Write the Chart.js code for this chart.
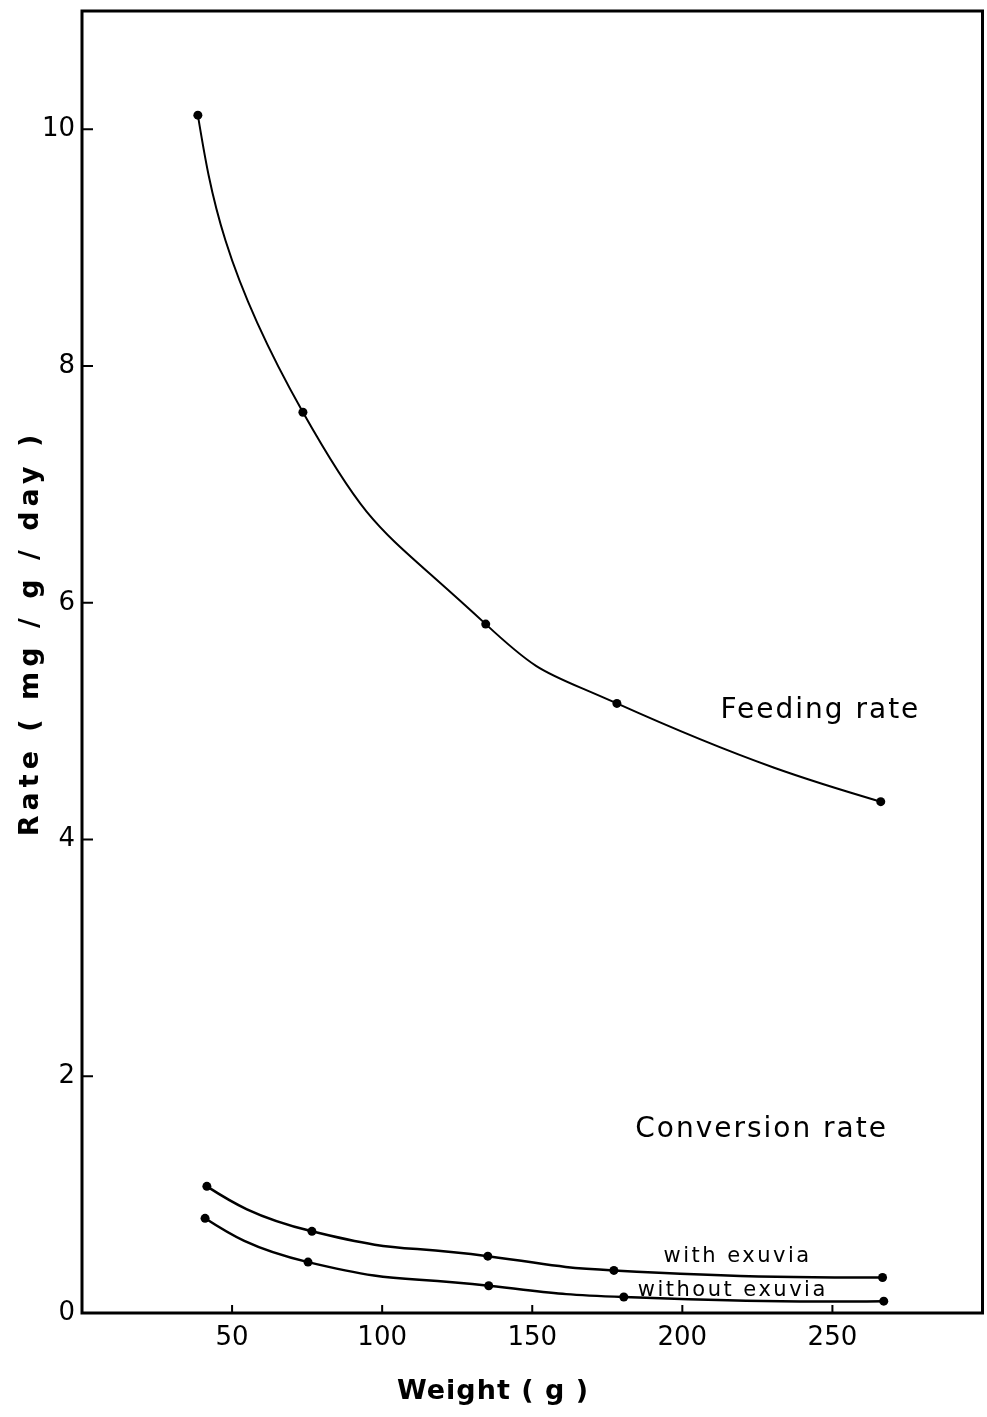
<!DOCTYPE html>
<html>
<head>
<meta charset="utf-8">
<title>Feeding and conversion rate vs weight</title>
<script src="https://cdn.jsdelivr.net/npm/chart.js@4.4.0/dist/chart.umd.min.js"></script>
<style>
    html, body { margin: 0; padding: 0; background: #fff; }
    #wrap { width: 987px; height: 1417px; }
</style>
</head>
<body>
<div id="wrap"><canvas id="myChart"></canvas></div>
<script>
// feeding rate
var weight_feed = [38.6, 73.6, 134.5, 178.2, 266.1];
var feeding_rate = [10.12, 7.61, 5.82, 5.15, 4.32];
// conversion rate, with exuvia
var weight_with = [41.6, 76.6, 135.2, 177.2, 266.7];
var conv_with = [1.07, 0.69, 0.48, 0.36, 0.30];
// conversion rate, without exuvia
var weight_without = [41.0, 75.3, 135.5, 180.5, 267.1];
var conv_without = [0.80, 0.43, 0.23, 0.135, 0.10];
// axis ticks
var x_ticks = [50, 100, 150, 200, 250];
var y_ticks = [0, 2, 4, 6, 8, 10];

var FONT = '"DejaVu Sans", sans-serif';

function to_points(xs, ys) {
    var out = [];
    for (let i = 0; i < xs.length; i++) {
        out.push({ x: xs[i], y: ys[i] });
    }
    return out;
}

function series(data, width) {
    return {
        data: data,
        borderColor: '#000',
        backgroundColor: '#000',
        borderWidth: width,
        pointRadius: 4.5,
        pointHoverRadius: 4.5,
        pointBorderWidth: 0,
        showLine: true,
        fill: false,
        tension: 0.52
    };
}

function put_text(ctx, str, x, y, font, spacing) {
    ctx.font = font;
    ctx.letterSpacing = spacing + 'px';
    ctx.fillText(str, x, y);
}

// ends of each curve: zero curvature at the first and last point,
// so the line keeps bending the same way instead of starting on the chord
var curve_ends_plugin = {
    id: 'curveEnds',
    beforeDatasetsDraw: function (chart) {
        chart.data.datasets.forEach(function (ds, i) {
            var meta = chart.getDatasetMeta(i);
            var line = meta.dataset;
            var pts = meta.data;
            if (!line || pts.length < 3) return;
            line.updateControlPoints(chart.chartArea, 'x');
            var n = pts.length;
            pts[0].cp2x = (pts[0].x + pts[1].cp1x) / 2;
            pts[0].cp2y = (pts[0].y + pts[1].cp1y) / 2;
            pts[n - 1].cp1x = (pts[n - 1].x + pts[n - 2].cp2x) / 2;
            pts[n - 1].cp1y = (pts[n - 1].y + pts[n - 2].cp2y) / 2;
            delete line._path;
        });
    }
};

// frame, inward ticks and all hand-lettered labels
var figure_plugin = {
    id: 'figure',
    afterDraw: function (chart) {
        var ctx = chart.ctx;
        var a = chart.chartArea;
        var xs = chart.scales.x;
        var ys = chart.scales.y;
        ctx.save();
        ctx.strokeStyle = '#000';
        ctx.lineWidth = 3;
        ctx.strokeRect(a.left, a.top, a.right - a.left, a.bottom - a.top);

        ctx.lineWidth = 2;
        ctx.beginPath();
        xs.ticks.forEach(function (t) {
            var px = xs.getPixelForValue(t.value);
            ctx.moveTo(px, a.bottom);
            ctx.lineTo(px, a.bottom - 8);
        });
        ys.ticks.forEach(function (t) {
            if (t.value === 0) return;
            var py = ys.getPixelForValue(t.value);
            ctx.moveTo(a.left, py);
            ctx.lineTo(a.left + 11, py);
        });
        ctx.stroke();

        ctx.fillStyle = '#000';
        ctx.textAlign = 'center';
        ctx.textBaseline = 'alphabetic';
        put_text(ctx, 'Feeding rate', xs.getPixelForValue(246), ys.getPixelForValue(5.03), '28px ' + FONT, 2);
        put_text(ctx, 'Conversion rate', xs.getPixelForValue(226.4), ys.getPixelForValue(1.49), '28px ' + FONT, 2);
        put_text(ctx, 'with exuvia', xs.getPixelForValue(218.4), ys.getPixelForValue(0.43), '21px ' + FONT, 2.5);
        put_text(ctx, 'without exuvia', xs.getPixelForValue(216.8), ys.getPixelForValue(0.14), '21px ' + FONT, 2.5);

        // axis titles
        ctx.textBaseline = 'middle';
        put_text(ctx, 'Weight ( g )', 493, 1392, 'bold 27px ' + FONT, 1);
        ctx.translate(31, 633);
        ctx.rotate(-Math.PI / 2);
        put_text(ctx, 'Rate ( mg / g / day )', 0, 0, 'bold 27px ' + FONT, 5);
        ctx.restore();
    }
};

function draw_chart() {
    var ctx = document.getElementById('myChart');
    var chart = new Chart(ctx, {
        type: 'scatter',
        data: {
            datasets: [
                series(to_points(weight_feed, feeding_rate), 2),
                series(to_points(weight_with, conv_with), 2.5),
                series(to_points(weight_without, conv_without), 2.5)
            ]
        },
        options: {
            responsive: true,
            maintainAspectRatio: false,
            animation: false,
            layout: { padding: { top: 11, right: 4, left: 0, bottom: 0 } },
            scales: {
                x: {
                    type: 'linear',
                    min: 0,
                    max: 300,
                    grid: { display: false, drawTicks: false },
                    border: { display: false },
                    afterBuildTicks: function (scale) {
                        scale.ticks = x_ticks.map(function (v) { return { value: v }; });
                    },
                    afterFit: function (scale) {
                        scale.height = 104;
                        scale.paddingLeft = 0;
                        scale.paddingRight = 0;
                    },
                    ticks: {
                        color: '#000',
                        padding: 10,
                        maxRotation: 0,
                        font: { family: FONT, size: 26 }
                    }
                },
                y: {
                    type: 'linear',
                    min: 0,
                    max: 11,
                    grid: { display: false, drawTicks: false },
                    border: { display: false },
                    afterBuildTicks: function (scale) {
                        scale.ticks = y_ticks.map(function (v) { return { value: v }; });
                    },
                    afterFit: function (scale) {
                        scale.width = 82;
                        scale.paddingTop = 0;
                        scale.paddingBottom = 0;
                    },
                    ticks: {
                        color: '#000',
                        padding: 7,
                        font: { family: FONT, size: 26 }
                    }
                }
            },
            plugins: {
                legend: { display: false },
                tooltip: { enabled: false }
            }
        },
        plugins: [curve_ends_plugin, figure_plugin]
    });
}

draw_chart();
</script>
</body>
</html>
